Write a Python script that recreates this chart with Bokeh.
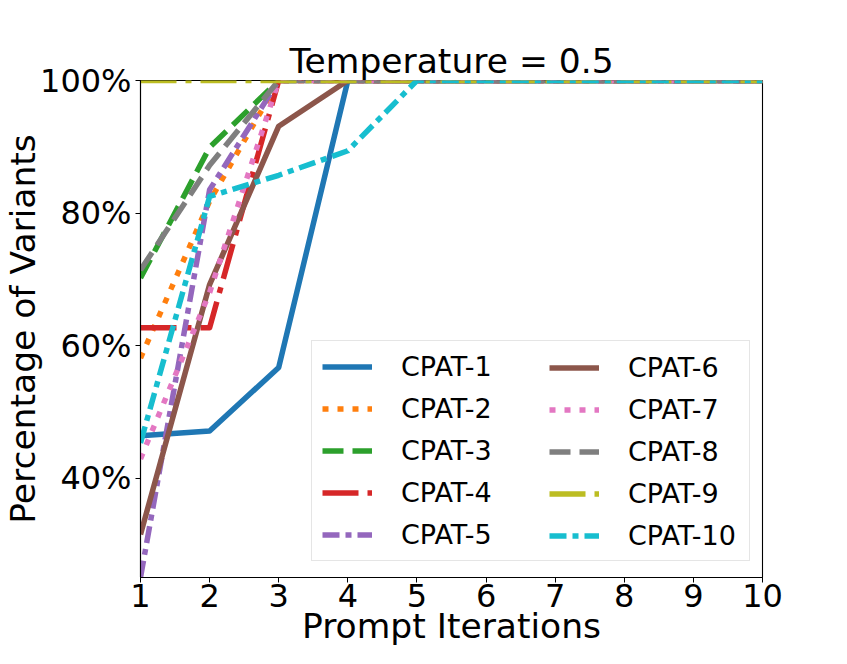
from bokeh.plotting import figure
from bokeh.models import (Range1d, FixedTicker, NumeralTickFormatter, Legend, LegendItem,
                          ColumnDataSource)
from bokeh.embed import file_html
from bokeh.resources import INLINE

# ---- data ----
iterations = [1, 2, 3, 4, 5, 6, 7, 8, 9, 10]
series_names = ["CPAT-1", "CPAT-2", "CPAT-3", "CPAT-4", "CPAT-5",
                "CPAT-6", "CPAT-7", "CPAT-8", "CPAT-9", "CPAT-10"]
cpat1 = [0.464, 0.471, 0.567, 1.0, 1.0, 1.0, 1.0, 1.0, 1.0, 1.0]
cpat2 = [0.581, 0.818, 1.0, 1.0, 1.0, 1.0, 1.0, 1.0, 1.0, 1.0]
cpat3 = [0.702, 0.899, 1.0, 1.0, 1.0, 1.0, 1.0, 1.0, 1.0, 1.0]
cpat4 = [0.627, 0.627, 1.0, 1.0, 1.0, 1.0, 1.0, 1.0, 1.0, 1.0]
cpat5 = [0.25, 0.835, 1.0, 1.0, 1.0, 1.0, 1.0, 1.0, 1.0, 1.0]
cpat6 = [0.315, 0.692, 0.931, 1.0, 1.0, 1.0, 1.0, 1.0, 1.0, 1.0]
cpat7 = [0.429, 0.68, 1.0, 1.0, 1.0, 1.0, 1.0, 1.0, 1.0, 1.0]
cpat8 = [0.714, 0.872, 1.0, 1.0, 1.0, 1.0, 1.0, 1.0, 1.0, 1.0]
cpat9 = [1.0, 1.0, 1.0, 1.0, 1.0, 1.0, 1.0, 1.0, 1.0, 1.0]
cpat10 = [0.453, 0.825, 0.857, 0.894, 1.0, 1.0, 1.0, 1.0, 1.0, 1.0]
all_series = [cpat1, cpat2, cpat3, cpat4, cpat5, cpat6, cpat7, cpat8, cpat9, cpat10]
y_ticks = [0.4, 0.6, 0.8, 1.0]

colors = ["#1f77b4", "#ff7f0e", "#2ca02c", "#d62728", "#9467bd",
          "#8c564b", "#e377c2", "#7f7f7f", "#bcbd22", "#17becf"]
dashes = ["solid", "6 9", "21 9", "36 9 6 9", "17 6 6 6"]

FONT = "DejaVu Sans"

p = figure(width=831, height=648, output_backend="svg", toolbar_location=None,
           x_range=Range1d(1, 10), y_range=Range1d(0.25, 1.0),
           min_border_left=140, min_border_right=69, min_border_top=80, min_border_bottom=60)

p.title.text = "Temperature = 0.5"
p.title.align = "center"
p.title.text_font = FONT
p.title.text_font_size = "34.5px"
p.title.text_font_style = "normal"
p.title.text_color = "black"
p.title.standoff = 0

p.xgrid.visible = False
p.ygrid.visible = False
p.outline_line_color = "black"
p.outline_line_width = 1.1
p.outline_line_alpha = 1.0
p.background_fill_color = "white"
p.border_fill_color = "white"

p.xaxis.ticker = FixedTicker(ticks=iterations)
p.yaxis.ticker = FixedTicker(ticks=y_ticks)
p.yaxis.formatter = NumeralTickFormatter(format="0%")
p.xaxis.axis_label = "Prompt Iterations"
p.yaxis.axis_label = "Percentage of Variants"
for ax in (p.xaxis, p.yaxis):
    ax.axis_label_text_font = FONT
    ax.axis_label_text_font_size = "34.5px"
    ax.axis_label_text_font_style = "normal"
    ax.axis_label_text_color = "black"
    ax.major_label_text_font = FONT
    ax.major_label_text_font_size = "32px"
    ax.major_label_text_color = "black"
    ax.minor_tick_line_color = None
    ax.major_tick_in = 0
    ax.major_tick_out = 5
    ax.major_tick_line_color = "black"
    ax.axis_line_color = "black"
    ax.axis_line_width = 1.1
p.yaxis.major_label_standoff = 4
p.yaxis.axis_label_standoff = -6
p.xaxis.major_label_standoff = 1
p.xaxis.axis_label_standoff = -4

items = []
for i, (name, ys) in enumerate(zip(series_names, all_series)):
    src = ColumnDataSource(data=dict(x=iterations, y=ys))
    r = p.line("x", "y", source=src, line_color=colors[i], line_width=5.5,
               line_dash=dashes[i % 5], line_join="round")
    items.append(LegendItem(label=name, renderers=[r]))

common = dict(glyph_width=50, glyph_height=31, label_height=31, label_standoff=29,
              spacing=11, padding=10, margin=0,
              label_text_font=FONT, label_text_font_size="27px", label_text_color="black")

# left column carries the framed box; right column is drawn box-less on top
leg1 = Legend(items=items[:5], location=(171, 16), label_width=338,
              border_line_color="#cccccc", border_line_width=1,
              background_fill_color="white", background_fill_alpha=0.8, **common)
leg2 = Legend(items=items[5:], location=(409, 26), label_width=100,
              border_line_color=None, background_fill_alpha=0.0, **common)
p.add_layout(leg1, "center")
p.add_layout(leg2, "center")

open("out.html", "w").write(file_html(p, INLINE))
